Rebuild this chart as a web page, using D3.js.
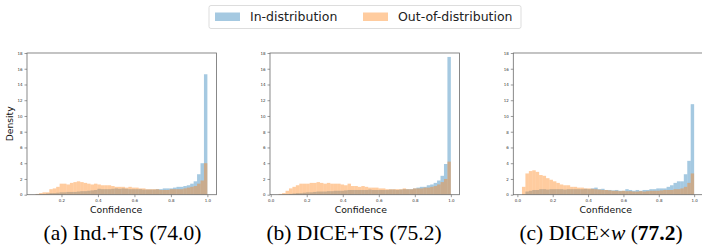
<!DOCTYPE html>
<html>
<head>
<meta charset="utf-8">
<script src="https://cdn.jsdelivr.net/npm/d3@7"></script>
<style>
  body { margin: 0; background: #fff; }
  svg { display: block; }
  .tick text { font-family: "DejaVu Sans", sans-serif; }
</style>
</head>
<body>
<div id="chart"></div>
<script>
// histogram densities, 50 bins from binStart[k] to 1.0
const binCount = 50;
const binStart = [0.058, 0.044, 0.026];
const xDomains = [[0.011, 1.05], [-0.004, 1.048], [-0.023, 1.049]];

const inDistA = [0.05, 0.1, 0.1, 0.15, 0.2, 0.2, 0.25, 0.3, 0.3, 0.35,
  0.35, 0.35, 0.4, 0.45, 0.45, 0.5, 0.55, 0.6, 0.75, 0.7,
  0.7, 0.7, 0.75, 0.8, 0.75, 0.8, 0.75, 0.7, 0.7, 0.7,
  0.7, 0.65, 0.65, 0.65, 0.65, 0.7, 0.7, 0.8, 0.8, 0.8,
  0.9, 1.0, 1.0, 1.1, 1.2, 1.4, 1.7, 2.6, 4.0, 15.3];
const oodDistA = [0.1, 0.2, 0.3, 0.3, 0.7, 0.8, 1.0, 1.4, 1.4, 1.3,
  1.5, 1.6, 1.7, 1.6, 1.5, 1.4, 1.3, 1.4, 1.3, 1.2,
  1.2, 1.2, 1.1, 1.0, 1.0, 1.0, 0.9, 1.0, 0.9, 0.9,
  0.8, 0.8, 0.7, 0.7, 0.7, 0.7, 0.6, 0.6, 0.6, 0.7,
  0.7, 0.7, 0.7, 0.8, 0.9, 1.0, 1.1, 1.4, 1.8, 4.0];

const inDistB = [0.02, 0.05, 0.05, 0.1, 0.15, 0.2, 0.2, 0.25, 0.3, 0.3,
  0.35, 0.4, 0.4, 0.4, 0.45, 0.45, 0.5, 0.5, 0.5, 0.55,
  0.6, 0.6, 0.6, 0.6, 0.6, 0.6, 0.65, 0.6, 0.6, 0.6,
  0.6, 0.6, 0.65, 0.65, 0.6, 0.65, 0.7, 0.7, 0.7, 0.8,
  0.9, 1.0, 1.0, 1.2, 1.3, 1.5, 1.8, 2.4, 3.9, 17.5];
const oodDistB = [0.1, 0.2, 0.5, 0.8, 1.0, 1.2, 1.4, 1.4, 1.4, 1.5,
  1.5, 1.6, 1.5, 1.4, 1.5, 1.4, 1.4, 1.4, 1.3, 1.2,
  1.4, 1.1, 1.1, 1.0, 1.1, 1.0, 0.9, 0.9, 0.9, 0.8,
  0.8, 0.7, 0.7, 0.7, 0.7, 0.7, 0.8, 0.7, 0.7, 0.8,
  0.8, 0.8, 0.9, 0.9, 1.0, 1.1, 1.3, 1.6, 2.0, 4.2];

const inDistC = [0.05, 0.4, 0.5, 0.6, 0.6, 0.7, 0.7, 0.65, 0.7, 0.7,
  0.7, 0.7, 0.65, 0.7, 0.7, 0.7, 0.7, 0.7, 0.75, 0.7,
  0.8, 0.9, 0.7, 0.75, 0.6, 0.6, 0.55, 0.6, 0.5, 0.5,
  0.7, 0.6, 0.5, 0.6, 0.5, 0.6, 0.6, 0.7, 0.7, 0.8,
  0.8, 0.8, 1.0, 1.2, 1.5, 1.7, 1.7, 2.6, 4.3, 11.5];
const oodDistC = [1.0, 2.7, 3.0, 3.1, 2.9, 2.5, 2.4, 2.1, 1.9, 1.7,
  1.5, 1.3, 1.2, 1.2, 1.0, 1.0, 0.9, 0.9, 0.8, 0.8,
  0.75, 0.7, 0.65, 0.6, 0.6, 0.55, 0.5, 0.5, 0.45, 0.5,
  0.45, 0.45, 0.4, 0.4, 0.45, 0.4, 0.45, 0.5, 0.5, 0.5,
  0.55, 0.6, 0.6, 0.6, 0.7, 0.7, 0.8, 1.0, 1.5, 2.7];

const inSeries = [inDistA, inDistB, inDistC];
const oodSeries = [oodDistA, oodDistB, oodDistC];

const yTicks = [0, 2, 4, 6, 8, 10, 12, 14, 16, 18];
const xTicks = [0, 0.2, 0.4, 0.6, 0.8, 1.0];
const legendLabels = ["In-distribution", "Out-of-distribution"];
const colors = ["#1f77b4", "#ff7f0e"];

const W = 702, H = 252;
const panelLeft = [27, 270, 513.3];
const panelW = 189.5;
const plotTop = 53, plotBottom = 194.7;

const svg = d3.select("#chart").append("svg")
  .attr("width", W).attr("height", H)
  .attr("viewBox", `0 0 ${W} ${H}`);

const y = d3.scaleLinear().domain([0, 18]).range([plotBottom, plotTop]);

panelLeft.forEach((left, k) => {
  const x = d3.scaleLinear().domain(xDomains[k]).range([left, left + panelW]);
  const w = (1 - binStart[k]) / binCount;
  const g = svg.append("g");

  [inSeries[k], oodSeries[k]].forEach((vals, s) => {
    g.append("g").selectAll("rect")
      .data(vals)
      .join("rect")
      .attr("x", (d, i) => x(binStart[k] + i * w))
      .attr("width", (d, i) => x(binStart[k] + (i + 1) * w) - x(binStart[k] + i * w))
      .attr("y", d => y(d))
      .attr("height", d => y(0) - y(d))
      .attr("fill", colors[s])
      .attr("fill-opacity", 0.4);
  });

  const ticksShown = xTicks.filter(t => t >= xDomains[k][0]);
  const gx = g.append("g").attr("transform", `translate(0,${plotBottom})`)
    .call(d3.axisBottom(x).tickValues(ticksShown).tickFormat(d3.format(".1f")).tickSize(2.5).tickPadding(1.5));
  const gy = g.append("g").attr("transform", `translate(${left},0)`)
    .call(d3.axisLeft(y).tickValues(yTicks).tickSize(2.5).tickPadding(2));
  [gx, gy].forEach(ax => {
    ax.select(".domain").remove();
    ax.selectAll("line").attr("stroke", "#555").attr("stroke-width", 0.6);
    ax.selectAll("text").attr("fill", "#333").style("font-size", "4px");
  });

  g.append("rect")
    .attr("x", left).attr("y", plotTop)
    .attr("width", panelW).attr("height", plotBottom - plotTop)
    .attr("fill", "none").attr("stroke", "#6b6b6b").attr("stroke-width", 0.8);

  g.append("text")
    .attr("x", x(0.5)).attr("y", 212.5)
    .attr("text-anchor", "middle")
    .style("font-family", "DejaVu Sans, sans-serif").style("font-size", "9.3px")
    .attr("fill", "#111")
    .text("Confidence");
});

svg.append("text")
  .attr("transform", `translate(13,${(plotTop + plotBottom) / 2}) rotate(-90)`)
  .attr("text-anchor", "middle")
  .style("font-family", "DejaVu Sans, sans-serif").style("font-size", "9.2px")
  .attr("fill", "#111")
  .text("Density");

// legend
const lg = svg.append("g");
lg.append("rect").attr("x", 209).attr("y", 5.5).attr("width", 312).attr("height", 23)
  .attr("fill", "#fff").attr("stroke", "#ddd").attr("stroke-width", 1).attr("rx", 2);
const legendX = [215, 363];
legendLabels.forEach((lab, i) => {
  lg.append("rect").attr("x", legendX[i]).attr("y", 12.5).attr("width", 25).attr("height", 8.5)
    .attr("fill", colors[i]).attr("fill-opacity", 0.4);
  lg.append("text").attr("x", legendX[i] + 35).attr("y", 21)
    .style("font-family", "DejaVu Sans, sans-serif").style("font-size", "12.5px")
    .attr("fill", "#222").text(lab);
});

// captions
const capX = [122.5, 354, 601];
const capFont = "Liberation Serif, Times New Roman, serif";
const caps = [
  [["(a) Ind.+TS (74.0)", ""]],
  [["(b) DICE+TS (75.2)", ""]],
  [["(c) DICE×", ""], ["w", "italic"], [" (", ""], ["77.2", "bold"], [")", ""]]
];
caps.forEach((parts, i) => {
  const t = svg.append("text").attr("x", capX[i]).attr("y", 240)
    .attr("text-anchor", "middle")
    .style("font-family", capFont).style("font-size", "21.5px").attr("fill", "#000");
  parts.forEach(([s, st]) => {
    const ts = t.append("tspan").text(s);
    if (st === "italic") ts.style("font-style", "italic");
    if (st === "bold") ts.style("font-weight", "bold");
  });
});
</script>
</body>
</html>
